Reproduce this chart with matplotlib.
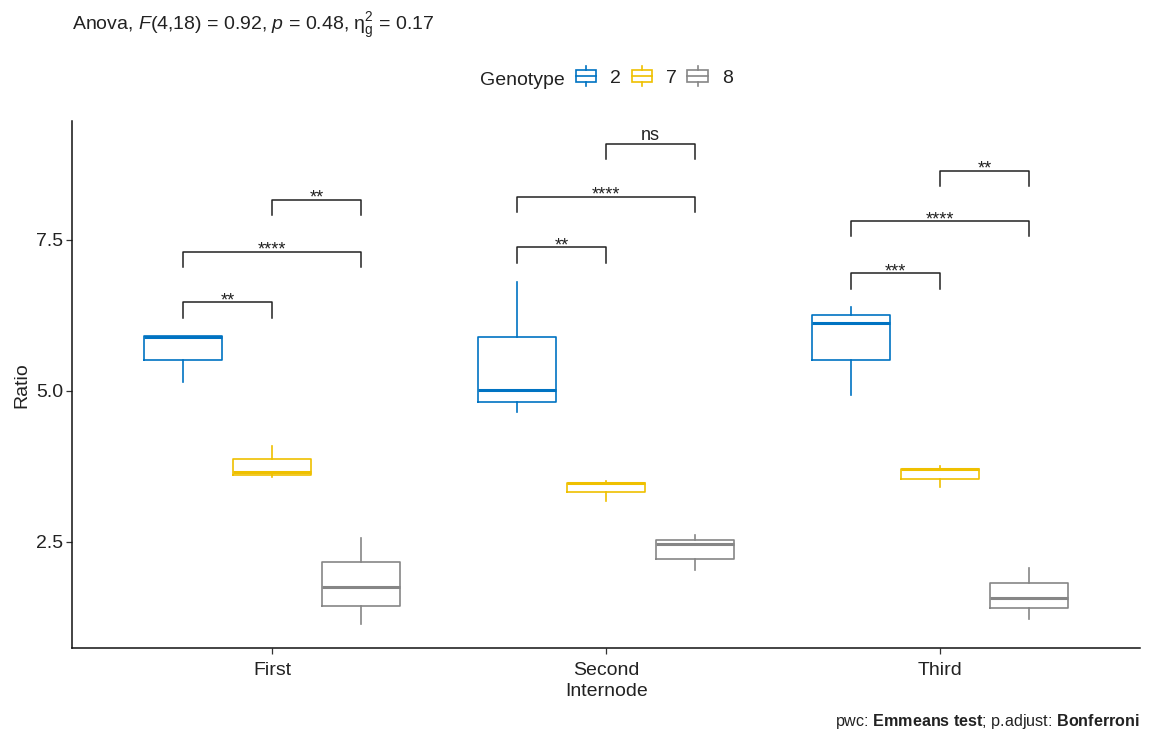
import matplotlib
matplotlib.use("Agg")
import matplotlib.pyplot as plt
from matplotlib.patches import Rectangle, Patch
from matplotlib.lines import Line2D
from matplotlib.legend_handler import HandlerBase

plt.rcParams['font.family'] = ['Liberation Sans', 'DejaVu Sans']
plt.rcParams['mathtext.fontset'] = 'custom'
plt.rcParams['mathtext.rm'] = 'Liberation Sans'
plt.rcParams['mathtext.it'] = 'Liberation Sans:italic'
plt.rcParams['mathtext.bf'] = 'Liberation Sans:bold'

internodes = ['First', 'Second', 'Third']
genotypes = ['2', '7', '8']
colors = ['#0073C2', '#EFC000', '#868686']

# box summaries: rows = genotype (2, 7, 8), columns = internode
whislo = [[5.14, 4.64, 4.93], [3.58, 3.18, 3.41], [1.15, 2.04, 1.22]]
q1 = [[5.50, 4.82, 5.51], [3.61, 3.32, 3.54], [1.44, 2.22, 1.40]]
med = [[5.89, 5.01, 6.12], [3.65, 3.47, 3.70], [1.76, 2.46, 1.57]]
q3 = [[5.90, 5.88, 6.25], [3.87, 3.47, 3.71], [2.16, 2.53, 1.82]]
whishi = [[5.90, 6.79, 6.39], [4.08, 3.51, 3.75], [2.56, 2.62, 2.07]]

# pairwise comparisons within each internode
pairs = [(0, 1), (0, 2), (1, 2)]
bracket_y = [[6.46, 7.30, 8.16], [7.37, 8.21, 9.08], [6.94, 7.80, 8.64]]
bracket_labels = [['**', '****', '**'], ['**', '****', 'ns'], ['***', '****', '**']]

dodge = 0.8 / 3
box_w = 0.7 / 3
tip = 0.25

fig = plt.figure(figsize=(11.5, 7.32), dpi=100)
ax = fig.add_axes([72.3 / 1150, 1 - 648.3 / 732, (1140 - 72.3) / 1150, (648.3 - 121) / 732])

for g, col in enumerate(colors):
    stats = []
    for i in range(len(internodes)):
        stats.append(dict(whislo=whislo[g][i], q1=q1[g][i], med=med[g][i],
                          q3=q3[g][i], whishi=whishi[g][i]))
    pos = [i + 1 + (g - 1) * dodge for i in range(len(internodes))]
    ax.bxp(stats, positions=pos, widths=box_w, showfliers=False, showcaps=False,
           boxprops=dict(color=col, lw=1.2),
           whiskerprops=dict(color=col, lw=1.2),
           medianprops=dict(color=col, lw=2.2, solid_capstyle='butt'),
           manage_ticks=False)

for i in range(len(internodes)):
    for (a, b), y, lab in zip(pairs, bracket_y[i], bracket_labels[i]):
        xa = i + 1 + (a - 1) * dodge
        xb = i + 1 + (b - 1) * dodge
        ax.plot([xa, xa, xb, xb], [y - tip, y, y, y - tip], color='#222222', lw=1.1)
        off = 3 if lab == 'ns' else -2.2
        ax.annotate(lab, ((xa + xb) / 2, y), xytext=(0, off), textcoords='offset points',
                    ha='center', va='baseline', fontsize=13, color='#222222')

ax.set_xlim(0.402, 3.599)
ax.set_ylim(0.74, 9.46)
ax.set_xticks([1, 2, 3])
ax.set_xticklabels(internodes)
ax.set_yticks([2.5, 5.0, 7.5])
ax.set_yticklabels(['2.5', '5.0', '7.5'])
ax.tick_params(labelsize=14, length=4, width=0.9, color='#333333', labelcolor='#222222', pad=2.5)
ax.tick_params(axis='x', pad=6)
for s in ['top', 'right']:
    ax.spines[s].set_visible(False)
for s in ['left', 'bottom']:
    ax.spines[s].set_linewidth(1.1)
    ax.spines[s].set_color('#111111')
ax.set_xlabel('Internode', fontsize=14, color='#222222', labelpad=3)
ax.set_ylabel('Ratio', fontsize=14, color='#222222', labelpad=4)

fig.text(72 / 1150, 1 - 30 / 732,
         r'Anova, $\mathit{F}$(4,18) = 0.92, $\mathit{p}$ = 0.48, '
         r'$\mathrm{\eta}^{2}_{\mathrm{g}}$ = 0.17',
         fontsize=14, ha='left', va='baseline', color='#222222')

fig.text(1140 / 1150, 1 - 726 / 732,
         r'pwc: $\mathbf{Emmeans\ test}$; p.adjust: $\mathbf{Bonferroni}$',
         fontsize=11.6, ha='right', va='baseline', color='#222222')


class BoxKey(HandlerBase):
    def create_artists(self, legend, orig_handle, xdescent, ydescent,
                       width, height, fontsize, trans):
        c = orig_handle.get_edgecolor()
        x0, y0 = -xdescent, -ydescent
        bw = 0.92 * width
        bx = x0 + (width - bw) / 2
        cx = x0 + width / 2
        bh = 9.0
        by = y0 + (height - bh) / 2
        box = Rectangle((bx, by), bw, bh, fill=False, ec=c, lw=1.2, transform=trans)
        mid = Line2D([bx, bx + bw], [by + bh / 2] * 2, color=c, lw=1.2, transform=trans)
        up = Line2D([cx, cx], [by + bh, by + bh + 3], color=c, lw=1.2, transform=trans)
        dn = Line2D([cx, cx], [by, by - 3], color=c, lw=1.2, transform=trans)
        return [box, mid, up, dn]


handles = [Patch(facecolor='none', edgecolor=c) for c in colors]
fig.text(480 / 1150, 1 - 85 / 732, 'Genotype', fontsize=14, ha='left', va='baseline',
         color='#222222')
fig.legend(handles, genotypes, handler_map={Patch: BoxKey()}, ncol=3, frameon=False,
           loc='center left', bbox_to_anchor=(575 / 1150, 1 - 78 / 732),
           borderpad=0, borderaxespad=0, handlelength=1.13, handletextpad=0.68,
           columnspacing=0.5, fontsize=14, labelcolor='#222222')

fig.savefig('out.png', dpi=100)
